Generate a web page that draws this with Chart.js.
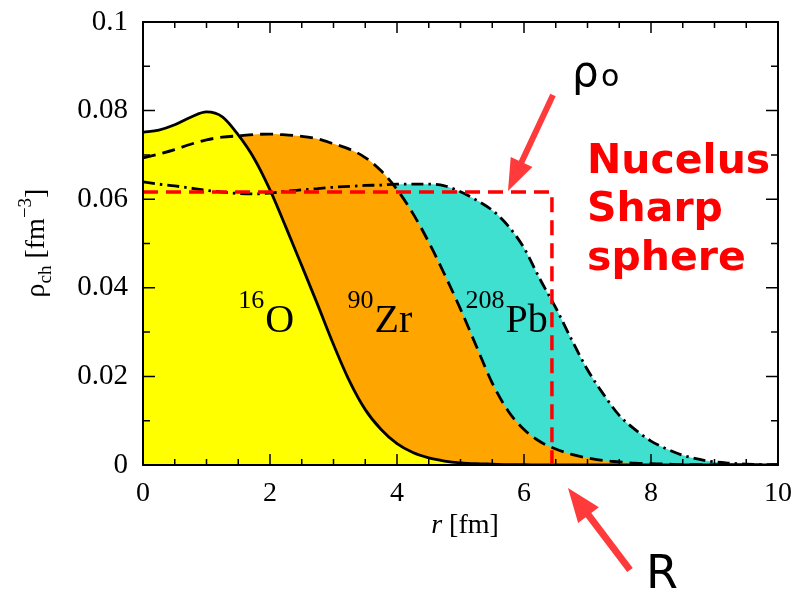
<!DOCTYPE html>
<html><head><meta charset="utf-8">
<script src="https://cdn.jsdelivr.net/npm/chart.js@4/dist/chart.umd.min.js"></script>
<style>html,body{margin:0;padding:0;background:#fff}#wrap{width:797px;height:591px}</style>
</head><body><div id="wrap"><canvas id="c" width="797" height="591"></canvas></div>
<script>
// radius grid [fm]
const radius = [0,0.25,0.5,0.75,1,1.25,1.5,1.75,2,2.25,2.5,2.75,3,3.25,3.5,3.75,4,4.25,4.5,4.75,5,5.25,5.5,5.75,6,6.25,6.5,6.75,7,7.25,7.5,7.75,8,8.25,8.5,8.75,9,9.25,9.5,9.75,10];
// charge densities [fm^-3]
const rhoO16 = [0.0751,0.0756,0.0768,0.0785,0.0797,0.0786,0.0745,0.0692,0.0621,0.0537,0.0450,0.0362,0.0272,0.0190,0.0125,0.0080,0.0048,0.0028,0.0016,0.0009,0.0005,0.0003,0.0002,0.0001,0.0001,0,0,0,0,0,0,0,0,0,0,0,0,0,0,0,0];
const rhoZr90 = [0.0693,0.0702,0.0712,0.0724,0.0734,0.0740,0.0743,0.0746,0.0747,0.0745,0.0742,0.0736,0.0725,0.0713,0.0694,0.0664,0.0622,0.0568,0.0503,0.0430,0.0352,0.0268,0.0185,0.0122,0.0080,0.0053,0.0036,0.0024,0.0016,0.0010,0.0007,0.0004,0.0003,0.0002,0.0001,0.0001,0,0,0,0,0];
const rhoPb208 = [0.0639,0.0634,0.0630,0.0625,0.0620,0.0616,0.0613,0.0612,0.0614,0.0618,0.0621,0.0624,0.0627,0.0629,0.0631,0.0632,0.0634,0.0634,0.0634,0.0630,0.0617,0.0598,0.0575,0.0540,0.0490,0.0420,0.0355,0.0283,0.0215,0.0160,0.0112,0.0080,0.0054,0.0036,0.0022,0.0013,0.0007,0.0004,0.0002,0.0001,0.0001];
// sharp-sphere outline (R, rho0)
const sphereR = [0, 6.44, 6.44];
const sphereRho = [0.0616, 0.0616, -0.0017];
// tick labels
const xTickValues = [0,2,4,6,8,10];
const yTickValues = [0,0.02,0.04,0.06,0.08,0.1];
const nucleusLabels = [
  {sup:'16', main:'O', r:1.5, rho:0.030},
  {sup:'90', main:'Zr', r:3.22, rho:0.030},
  {sup:'208', main:'Pb', r:5.08, rho:0.030}
];

const pts = (xs, ys) => xs.map((x,i)=>({x:x, y:ys[i]}));
const SERIF = '"Liberation Serif", "Times New Roman", serif';
const SANS = '"DejaVu Sans", sans-serif';

function arrow(ctx, x1, y1, x2, y2, w, hl, hw, color){
  const a = Math.atan2(y2-y1, x2-x1);
  const len = Math.hypot(x2-x1, y2-y1);
  ctx.save();
  ctx.translate(x1, y1); ctx.rotate(a);
  ctx.fillStyle = color;
  ctx.beginPath();
  ctx.moveTo(0, -w/2); ctx.lineTo(len-hl, -w/2); ctx.lineTo(len-hl, -hw/2);
  ctx.lineTo(len, 0); ctx.lineTo(len-hl, hw/2); ctx.lineTo(len-hl, w/2); ctx.lineTo(0, w/2);
  ctx.closePath(); ctx.fill();
  ctx.restore();
}

const decor = {
  id:'decor',
  afterDatasetsDraw(chart){
    const ctx = chart.ctx, a = chart.chartArea;
    const xs = chart.scales.x, ys = chart.scales.y;
    ctx.save();
    ctx.strokeStyle = '#000'; ctx.lineWidth = 2;
    ctx.strokeRect(a.left, a.top, a.right-a.left, a.bottom-a.top);
    ctx.lineWidth = 1.5;
    ctx.beginPath();
    for (let i=0;i<=20;i++){
      const v = i*0.5, px = xs.getPixelForValue(v);
      const L = (i%4===0) ? 11 : 6;
      ctx.moveTo(px, a.bottom); ctx.lineTo(px, a.bottom-L);
      ctx.moveTo(px, a.top); ctx.lineTo(px, a.top+L);
    }
    for (let i=0;i<=10;i++){
      const v = i*0.01, py = ys.getPixelForValue(v);
      const L = (i%2===0) ? 12 : 7;
      ctx.moveTo(a.left, py); ctx.lineTo(a.left+L, py);
      ctx.moveTo(a.right, py); ctx.lineTo(a.right-L, py);
    }
    ctx.stroke();

    // nucleus labels
    ctx.fillStyle = '#000'; ctx.textBaseline = 'alphabetic'; ctx.textAlign = 'left';
    nucleusLabels.forEach(l=>{
      const x = xs.getPixelForValue(l.r), y = ys.getPixelForValue(l.rho);
      ctx.font = '26px ' + SERIF;
      ctx.fillText(l.sup, x, y-24);
      const w = ctx.measureText(l.sup).width;
      ctx.font = '40px ' + SERIF;
      ctx.fillText(l.main, x + w + 1, y);
    });

    // axis titles
    const t1 = 'r', t2 = ' [fm]';
    ctx.font = 'italic 28px ' + SERIF; const w1 = ctx.measureText(t1).width;
    ctx.font = '28px ' + SERIF; const w2 = ctx.measureText(t2).width;
    let sx = 465 - (w1+w2)/2;
    ctx.font = 'italic 28px ' + SERIF; ctx.fillText(t1, sx, 533);
    ctx.font = '28px ' + SERIF; ctx.fillText(t2, sx + w1, 533);

    ctx.save();
    ctx.translate(44, 243); ctx.rotate(-Math.PI/2);
    const parts = [
      {t:'\u03C1', f:'28px ', dy:0},
      {t:'ch', f:'19px ', dy:7},
      {t:' [fm', f:'28px ', dy:0},
      {t:'\u22123', f:'19px ', dy:-13},
      {t:']', f:'28px ', dy:0}
    ];
    let tot = 0; parts.forEach(p=>{ctx.font = p.f + SERIF; p.w = ctx.measureText(p.t).width; tot += p.w;});
    let cx = -tot/2;
    parts.forEach(p=>{ctx.font = p.f + SERIF; ctx.fillText(p.t, cx, p.dy); cx += p.w;});
    ctx.restore();

    // annotations
    ctx.font = '42px ' + SANS; ctx.fillStyle = '#000';
    ctx.fillText('\u03C1', 572, 86);
    ctx.font = '30px ' + SANS;
    ctx.fillText('o', 601, 86);
    ctx.font = '46px ' + SANS;
    ctx.fillText('R', 646, 588);

    ctx.font = 'bold 41px ' + SANS; ctx.fillStyle = '#ff0000';
    ctx.fillText('Nucelus', 587, 173);
    ctx.fillText('Sharp', 587, 221);
    ctx.fillText('sphere', 587, 270);

    arrow(ctx, 553, 95, 508, 191, 6, 32, 24, '#ff3a3a');
    arrow(ctx, 630, 570, 568, 488, 7, 34, 26, '#ff3a3a');
    ctx.restore();
  }
};

new Chart(document.getElementById('c'), {
  type:'line',
  data:{datasets:[
    {label:'sharp sphere', data:pts(sphereR, sphereRho), borderColor:'#ff0000', borderWidth:3.5, borderDash:[15,8], fill:false, pointRadius:0, tension:0, clip:false},
    {label:'16O', data:pts(radius, rhoO16), borderColor:'#000', borderWidth:2.8, backgroundColor:'#ffff00', fill:'origin', pointRadius:0, cubicInterpolationMode:'monotone'},
    {label:'90Zr', data:pts(radius, rhoZr90), borderColor:'#000', borderWidth:2.8, borderDash:[13,7], backgroundColor:'#ffa500', fill:'origin', pointRadius:0, cubicInterpolationMode:'monotone'},
    {label:'208Pb', data:pts(radius, rhoPb208), borderColor:'#000', borderWidth:2.8, borderDash:[12,5,2.5,5], backgroundColor:'#40e0d0', fill:'origin', pointRadius:0, cubicInterpolationMode:'monotone'}
  ]},
  options:{
    responsive:false, animation:false, devicePixelRatio:1,
    layout:{padding:{left:0, top:22, right:19, bottom:0}},
    plugins:{legend:{display:false}, tooltip:{enabled:false}, filler:{drawTime:'beforeDatasetsDraw'}},
    scales:{
      x:{type:'linear', min:0, max:10,
         grid:{display:false}, border:{display:false},
         afterBuildTicks(s){ s.ticks = xTickValues.map(v=>({value:v})); },
         ticks:{color:'#000', font:{family:SERIF, size:28}, padding:4, maxRotation:0, autoSkip:false,
                callback:v=>String(v)},
         afterFit(s){ s.height = 126; s.paddingLeft = 0; s.paddingRight = 0; }},
      y:{type:'linear', min:0, max:0.1,
         grid:{display:false}, border:{display:false},
         afterBuildTicks(s){ s.ticks = yTickValues.map(v=>({value:v})); },
         ticks:{color:'#000', font:{family:SERIF, size:29}, padding:7, autoSkip:false,
                callback:v=>String(+v.toFixed(2))},
         afterFit(s){ s.width = 143; s.paddingTop = 0; s.paddingBottom = 0; }}
    }
  },
  plugins:[decor]
});
</script></body></html>
